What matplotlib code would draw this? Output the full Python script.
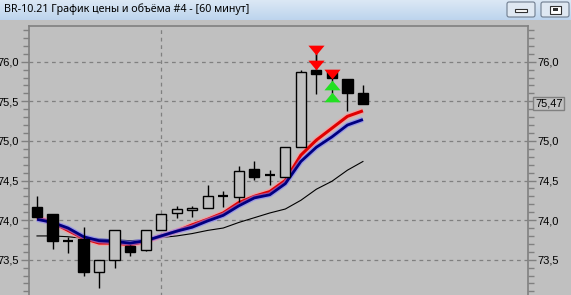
import numpy as np
import matplotlib
matplotlib.use("Agg")
import matplotlib.pyplot as plt
from matplotlib.patches import Rectangle, FancyBboxPatch
from matplotlib.ticker import MultipleLocator, FixedLocator

# candles (60 min bars)
opens  = [74.16, 74.08, 73.74, 73.76, 73.34, 73.50, 73.67, 73.62, 73.88, 74.09, 74.13,
          74.15, 74.31, 74.29, 74.65, 74.57, 74.55, 74.92, 75.89, 75.88, 75.78, 75.60]
highs  = [74.30, 74.08, 73.79, 73.91, 73.50, 73.87, 73.68, 73.87, 74.08, 74.18, 74.18,
          74.44, 74.37, 74.68, 74.75, 74.63, 74.92, 75.89, 76.12, 75.89, 75.78, 75.71]
lows   = [74.03, 73.64, 73.59, 73.29, 73.14, 73.39, 73.55, 73.61, 73.88, 74.03, 74.04,
          74.15, 74.17, 74.23, 74.51, 74.44, 74.55, 74.92, 75.59, 75.56, 75.38, 75.47]
closes = [74.04, 73.73, 73.73, 73.35, 73.50, 73.87, 73.60, 73.87, 74.08, 74.14, 74.15,
          74.30, 74.31, 74.62, 74.54, 74.57, 74.92, 75.87, 75.85, 75.79, 75.61, 75.47]

# moving averages
ma_red   = [74.03, 73.97, 73.87, 73.77, 73.71, 73.71, 73.69, 73.73, 73.80, 73.86, 73.94,
            74.01, 74.09, 74.22, 74.30, 74.36, 74.50, 74.82, 75.01, 75.16, 75.31, 75.38]
ma_blue  = [74.01, 73.97, 73.90, 73.79, 73.74, 73.73, 73.71, 73.74, 73.80, 73.86, 73.91,
            73.99, 74.06, 74.18, 74.28, 74.32, 74.46, 74.74, 74.92, 75.05, 75.20, 75.27]
ma_black = [73.80, 73.80, 73.79, 73.77, 73.76, 73.75, 73.74, 73.75, 73.78, 73.80, 73.83,
            73.87, 73.90, 73.97, 74.03, 74.09, 74.14, 74.25, 74.39, 74.49, 74.63, 74.74]

# signals
sell_idx = [18, 18, 19]
sell_px  = [76.15, 75.96, 75.84]
buy_idx  = [19, 19]
buy_px   = [75.71, 75.56]

last_price = 75.47
title = "BR-10.21 График цены и объёма #4 - [60 минут]"

W, H = 571, 295
BG = "#c0c0c0"
fig = plt.figure(figsize=(W / 100, H / 100), dpi=100, facecolor=BG)

# title bar
tb = fig.add_axes([0, 1 - 20 / H, 1, 20 / H])
grad = np.linspace(0, 1, 50).reshape(-1, 1)
c_top = np.array([0.86, 0.91, 0.96])
c_bot = np.array([0.74, 0.83, 0.93])
img = c_top + (c_bot - c_top) * grad[:, :, None]
tb.imshow(img, aspect="auto", extent=[0, W, 0, 20])
tb.set_xlim(0, W)
tb.set_ylim(0, 20)
tb.axis("off")
tb.text(4, 10.5, title, fontsize=7.7, family="Noto Sans", va="center", ha="left", color="black")
for x0 in (507, 541):
    tb.add_patch(FancyBboxPatch((x0, 3), 28, 15, boxstyle="round,pad=0,rounding_size=2",
                                fc="#dfe8f2", ec="#6f7d8f", lw=0.8))
tb.add_patch(Rectangle((515, 8), 12, 3.5, fc="white", ec="#303030", lw=0.8))
tb.add_patch(Rectangle((549.5, 6.5), 11, 8, fc="white", ec="#303030", lw=0.8))
tb.add_patch(Rectangle((552.5, 9), 5, 3, fc="#303030", ec="none"))

# main chart: pixel geometry
x_left, x_right, y_top, y_bot = 29, 528, 26, 320
x0_px, step = 37, 15.52
p_ref, y_ref, ppx = 76.0, 61.7, 79.2
xmin = (x_left - x0_px) / step
xmax = (x_right - x0_px) / step
ymax = p_ref + (y_ref - y_top) / ppx
ymin = p_ref - (y_bot - y_ref) / ppx

ax = fig.add_axes([x_left / W, 1 - y_bot / H, (x_right - x_left) / W, (y_bot - y_top) / H])
ax.set_facecolor(BG)
ax.set_xlim(xmin, xmax)
ax.set_ylim(ymin, ymax)

for s in ax.spines.values():
    s.set_color("#808080")
    s.set_linewidth(1.2)
ax.spines["bottom"].set_visible(False)

ax.yaxis.set_major_locator(MultipleLocator(0.5))
ax.yaxis.set_minor_locator(MultipleLocator(0.1))
ax.yaxis.set_major_formatter(plt.FuncFormatter(lambda v, p: f"{v:.1f}".replace(".", ",")))
ax.tick_params(axis="y", which="both", left=True, right=True, labelleft=True, labelright=True,
               direction="out", colors="#808080", labelcolor="black", labelsize=8, pad=1,
               labelfontfamily="Liberation Sans")
ax.tick_params(axis="y", which="major", length=6, width=1)
ax.tick_params(axis="y", which="minor", length=4, width=1)
ax.xaxis.set_major_locator(FixedLocator([8]))
ax.tick_params(axis="x", bottom=False, labelbottom=False)
ax.grid(True, which="major", color="#808080", linestyle=(0, (3, 3)), linewidth=0.9)

# the last-price box takes the place of the 75,5 label on the right
for loc, tick in zip(ax.yaxis.get_majorticklocs(), ax.yaxis.get_major_ticks()):
    if abs(loc - 75.5) < 1e-6:
        tick.label2.set_visible(False)

idx = np.arange(len(opens))
bw = 0.66

# moving averages with soft halo
ax.plot(idx, ma_black, color="black", lw=0.8, zorder=3)
ax.plot(idx, ma_red, color="#ff9999", lw=4.2, alpha=0.7, zorder=4, solid_capstyle="butt")
ax.plot(idx, ma_red, color="#e00000", lw=2.2, zorder=5, solid_capstyle="butt")
ax.plot(idx, ma_blue, color="#8080ff", lw=3.8, alpha=0.6, zorder=6, solid_capstyle="butt")
ax.plot(idx, ma_blue, color="#000080", lw=2.0, zorder=7, solid_capstyle="butt")

# candles
for i, (o, h, l, c) in enumerate(zip(opens, highs, lows, closes)):
    top, bot = max(o, c), min(o, c)
    ax.vlines(i, l, h, color="black", lw=1, zorder=8)
    if abs(o - c) < 0.015:
        ax.hlines((o + c) / 2, i - bw / 2, i + bw / 2, color="black", lw=1.6, zorder=9)
    elif c < o:
        ax.add_patch(Rectangle((i - bw / 2, bot), bw, top - bot, fc="black", ec="black",
                               lw=1, zorder=9))
    else:
        ax.add_patch(Rectangle((i - bw / 2, bot), bw, top - bot, fc=BG, ec="black",
                               lw=1, zorder=9))

# signal arrows
down = [(-1, 0.6), (1, 0.6), (0, -0.6)]
up = [(-1, -0.6), (1, -0.6), (0, 0.6)]
ax.vlines(18, 75.96, 76.15, color="black", lw=1, zorder=8)
ax.scatter(sell_idx, sell_px, marker=down, s=135, color="#ff0000", zorder=10, lw=0)
ax.scatter(buy_idx, buy_px, marker=up, s=135, color="#22e022", zorder=10, lw=0)

# last price box
ax.annotate(f"{last_price:.2f}".replace(".", ","), xy=(1, last_price), xycoords=("axes fraction", "data"),
            xytext=(7, 0), textcoords="offset pixels", va="center", ha="left", fontsize=8,
            family="Liberation Sans", annotation_clip=False,
            bbox=dict(boxstyle="square,pad=0.15", fc=BG, ec="#808080", lw=1))

fig.savefig("out.png", dpi=100, facecolor=BG)
